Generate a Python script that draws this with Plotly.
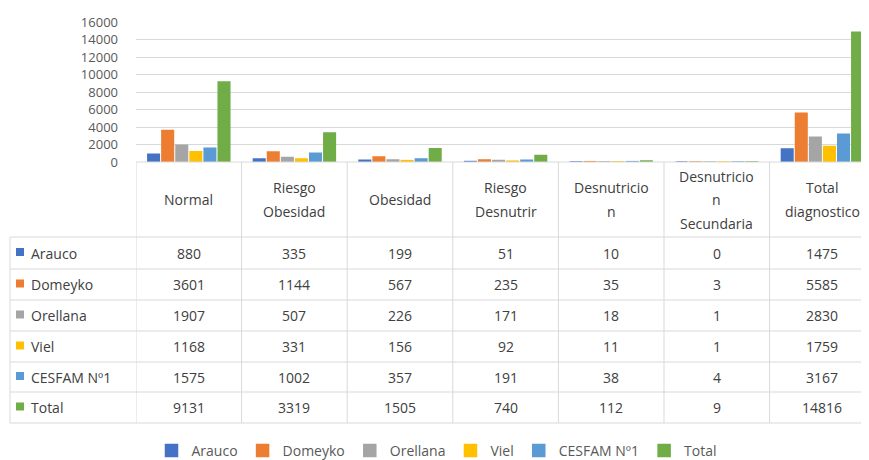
import plotly.graph_objects as go

# ---------------- data ----------------
categories = ["Normal", "Riesgo Obesidad", "Obesidad", "Riesgo Desnutrir",
              "Desnutricion", "Desnutricion Secundaria", "Total diagnostico"]
header_lines = [["Normal"], ["Riesgo", "Obesidad"], ["Obesidad"], ["Riesgo", "Desnutrir"],
                ["Desnutricio", "n"], ["Desnutricio", "n", "Secundaria"], ["Total", "diagnostico"]]
series_names = ["Arauco", "Domeyko", "Orellana", "Viel", "CESFAM Nº1", "Total"]
arauco = [880, 335, 199, 51, 10, 0, 1475]
domeyko = [3601, 1144, 567, 235, 35, 3, 5585]
orellana = [1907, 507, 226, 171, 18, 1, 2830]
viel = [1168, 331, 156, 92, 11, 1, 1759]
cesfam = [1575, 1002, 357, 191, 38, 4, 3167]
total = [9131, 3319, 1505, 740, 112, 9, 14816]
series_values = [arauco, domeyko, orellana, viel, cesfam, total]
colors = ["#4472C4", "#ED7D31", "#A5A5A5", "#FFC000", "#5B9BD5", "#70AD47"]
y_ticks = [0, 2000, 4000, 6000, 8000, 10000, 12000, 14000, 16000]

# ---------------- geometry (window pixels) ----------------
OFF = 8                      # default page body margin
WIN_W, WIN_H = 869, 460
W, H = WIN_W - OFF, WIN_H - OFF
PLOT_L = 136
COL_W = 105.6
Y_TOP, Y_ZERO = 22, 162
ROW_LINES = [237, 269, 300, 331, 362, 392, 423]
TABLE_L = 10
GRID = "#d9d9d9"
TXT = "#404040"
FONT = "Open Sans"


def px(x):
    return (x - OFF) / W


def py(y):
    return 1 - (y - OFF) / H


fig = go.Figure()
for name, vals, col in zip(series_names, series_values, colors):
    fig.add_trace(go.Bar(
        name=name, x=categories, y=vals,
        marker=dict(color=col, line=dict(color=col, width=1.5)),
        hoverinfo="y+name",
    ))

shapes = []
annotations = []
n_cat = len(categories)
line = dict(color=GRID, width=1)

# horizontal table lines
shapes.append(dict(type="line", xref="paper", yref="paper", x0=px(PLOT_L), x1=1,
                   y0=py(Y_ZERO), y1=py(Y_ZERO), line=line, layer="above"))
for yl in ROW_LINES:
    shapes.append(dict(type="line", xref="paper", yref="paper", x0=px(TABLE_L), x1=1,
                       y0=py(yl), y1=py(yl), line=line))
# vertical lines at category boundaries
for i in range(n_cat + 1):
    shapes.append(dict(type="line", xref="x", yref="paper", x0=i - 0.5, x1=i - 0.5,
                       y0=py(Y_ZERO), y1=py(ROW_LINES[-1]), line=line))
shapes.append(dict(type="line", xref="paper", yref="paper", x0=px(TABLE_L), x1=px(TABLE_L),
                   y0=py(ROW_LINES[0]), y1=py(ROW_LINES[-1]), line=line))

# header labels
hdr_c = (Y_ZERO + ROW_LINES[0]) / 2
LS = 23.5
for i, lines in enumerate(header_lines):
    n = len(lines)
    for k, t in enumerate(lines):
        yc = hdr_c + (k - (n - 1) / 2) * LS
        annotations.append(dict(text=t, x=i, xref="x", y=py(yc), yref="paper",
                                showarrow=False, xanchor="center", yanchor="middle",
                                font=dict(family=FONT, size=14, color=TXT)))

# rows
for r, (name, vals, col) in enumerate(zip(series_names, series_values, colors)):
    yc = (ROW_LINES[r] + ROW_LINES[r + 1]) / 2
    shapes.append(dict(type="rect", xref="paper", yref="paper",
                       x0=px(16), x1=px(24), y0=py(yc - 5), y1=py(yc + 3),
                       fillcolor=col, line=dict(width=0)))
    annotations.append(dict(text=name, x=px(29), xref="paper", y=py(yc), yref="paper",
                            showarrow=False, xanchor="left", yanchor="middle",
                            font=dict(family=FONT, size=14, color=TXT)))
    for i, v in enumerate(vals):
        annotations.append(dict(text=str(v), x=i, xref="x", y=py(yc), yref="paper",
                                showarrow=False, xanchor="center", yanchor="middle",
                                font=dict(family=FONT, size=14, color=TXT)))

fig.update_layout(
    width=W, height=H,
    margin=dict(l=0, r=0, t=0, b=0, autoexpand=False),
    paper_bgcolor="white", plot_bgcolor="white",
    barmode="group", bargap=0.2, bargroupgap=0.18,
    xaxis=dict(domain=[px(PLOT_L), 1], type="category",
               range=[-0.5, -0.5 + (WIN_W - PLOT_L) / COL_W],
               showticklabels=False, showgrid=False, zeroline=False, showline=False, ticks="",
               automargin=False),
    yaxis=dict(domain=[py(Y_ZERO), py(Y_TOP)], range=[0, 16000],
               tickvals=y_ticks, ticktext=[str(t) for t in y_ticks],
               showgrid=True, gridcolor=GRID, gridwidth=1, zeroline=False,
               showline=False, ticks="", ticklabelstandoff=17, automargin=False,
               tickfont=dict(family=FONT, size=13, color="#595959")),
    legend=dict(orientation="h", x=px(437), xanchor="center", y=py(451), yanchor="middle",
                font=dict(family=FONT, size=14, color="#595959"),
                itemwidth=30, traceorder="normal", bgcolor="rgba(0,0,0,0)"),
    shapes=shapes, annotations=annotations,
    font=dict(family=FONT),
)

fig.write_html("out.html")
